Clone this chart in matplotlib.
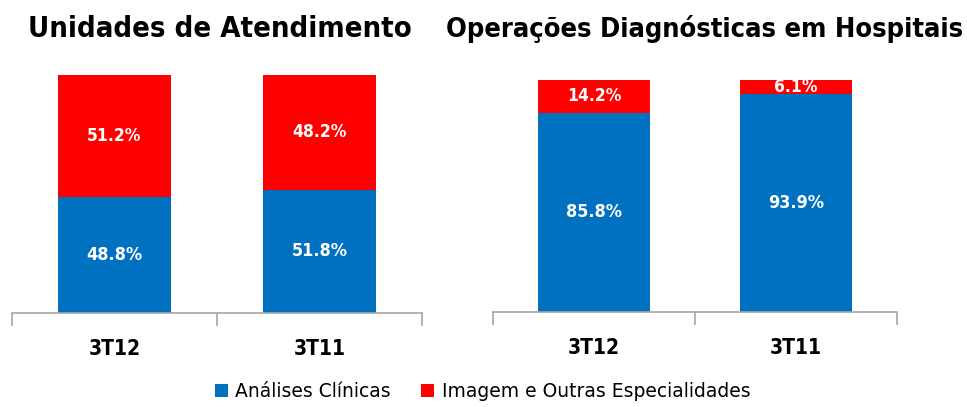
import matplotlib.pyplot as plt

categories = ['3T12', '3T11']
titles = ['Unidades de Atendimento', 'Operações Diagnósticas em Hospitais']
series_names = ['Análises Clínicas', 'Imagem e Outras Especialidades']
analises = [[48.8, 51.8], [85.8, 93.9]]
imagem = [[51.2, 48.2], [14.2, 6.1]]

blue = '#0070C0'
red = '#FF0000'
grey = '#A6A6A6'

plt.rcParams['font.family'] = ['DejaVu Sans']
plt.rcParams['font.stretch'] = 'condensed'

fig = plt.figure(figsize=(9.67, 4.07), dpi=100)
axes = [fig.add_axes([0.0124, 0.231, 0.424, 0.585]),
        fig.add_axes([0.5098, 0.2334, 0.4178, 0.570])]
title_x = [220 / 967, 705 / 967]
title_size = [21, 19.5]

for i, ax in enumerate(axes):
    x = range(len(categories))
    ax.bar(x, analises[i], width=0.556, color=blue, label=series_names[0])
    ax.bar(x, imagem[i], width=0.556, bottom=analises[i], color=red, label=series_names[1])
    for j in x:
        a, b = analises[i][j], imagem[i][j]
        ax.text(j, a / 2, f'{a:.1f}%', ha='center', va='center', color='white',
                fontsize=13, fontweight='bold')
        ax.text(j, a + b / 2, f'{b:.1f}%', ha='center', va='center', color='white',
                fontsize=12.5, fontweight='bold')
    ax.set_xlim(-0.5, 1.5)
    ax.set_ylim(0, 100)
    for s in ['top', 'left', 'right']:
        ax.spines[s].set_visible(False)
    ax.spines['bottom'].set_color(grey)
    ax.spines['bottom'].set_linewidth(1.2)
    ax.set_yticks([])
    ax.set_xticks(list(x))
    ax.set_xticklabels(categories, fontsize=15, fontweight='bold')
    ax.tick_params(axis='x', which='major', length=0, pad=19)
    ax.set_xticks([-0.5, 0.5, 1.5], minor=True)
    ax.tick_params(axis='x', which='minor', length=9, width=1.2, color=grey, direction='out')
    fig.text(title_x[i], 0.928, titles[i], ha='center', va='center',
             fontsize=title_size[i], fontweight='bold')

handles, labels = axes[0].get_legend_handles_labels()
fig.legend(handles, labels, loc='center', bbox_to_anchor=(0.499, 0.037), ncol=2,
           frameon=False, prop={'size': 13.5, 'stretch': 'normal'},
           handlelength=0.7, handleheight=0.7, handletextpad=0.4, columnspacing=1.6)

fig.savefig('out.png', dpi=100)
